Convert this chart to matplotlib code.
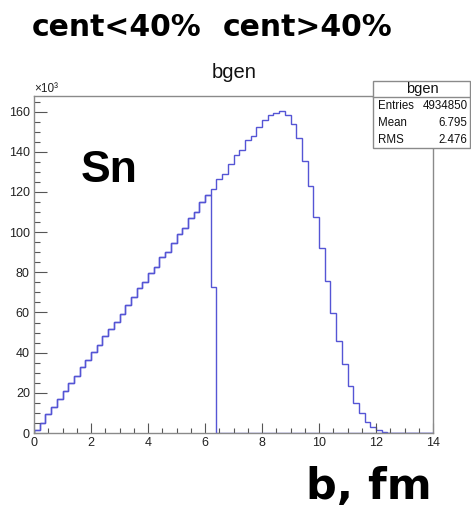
import numpy as np
import matplotlib
matplotlib.use("Agg")
import matplotlib.pyplot as plt
from matplotlib.patches import Rectangle
from matplotlib.lines import Line2D
from matplotlib.ticker import MultipleLocator

# ---- data (counts in units of 10^3, 70 bins of width 0.2 fm from 0 to 14) ----
bin_edges_range = (0.0, 14.0)
n_bins = 70
all_counts = [
    1.5, 5.1, 9.3, 13.1, 16.8, 20.8, 24.9, 28.4, 32.7, 36.4,
    40.2, 43.7, 48.3, 51.9, 55.3, 59.4, 63.7, 67.6, 72.1, 75.0,
    79.8, 82.5, 87.6, 90.3, 94.5, 99.1, 102.2, 106.9, 110.1, 114.8,
    118.5, 121.5, 126.5, 129.0, 134.0, 138.2, 141.0, 145.9, 147.9, 152.5,
    155.9, 158.3, 159.2, 160.4, 158.1, 154.0, 146.8, 135.5, 123.0, 107.7,
    92.0, 75.8, 59.6, 46.0, 34.4, 23.4, 15.1, 9.8, 5.6, 3.1,
    1.5, 0.6, 0.2, 0, 0, 0, 0, 0, 0, 0,
]
central_counts = all_counts[:31] + [72.5] + [0] * 38

stat_title = "bgen"
stat_rows = [("Entries", "4934850"), ("Mean", "6.795"), ("RMS", "2.476")]
y_ticks = [0, 20, 40, 60, 80, 100, 120, 140, 160]
x_ticks = [0, 2, 4, 6, 8, 10, 12, 14]

W, H = 471, 509
fig = plt.figure(figsize=(W / 100, H / 100), dpi=100)
fig.patch.set_facecolor("white")

def fx(px):
    return px / W

def fy(py):
    return 1 - py / H

ax = fig.add_axes([fx(34), fy(433), fx(433) - fx(34), fy(96) - fy(433)])
edges = np.linspace(bin_edges_range[0], bin_edges_range[1], n_bins + 1)
line_col = "#5555d5"
ax.stairs(all_counts, edges, baseline=0, color=line_col, lw=1.0)
ax.stairs(central_counts, edges, baseline=0, color=line_col, lw=1.0)

ax.set_xlim(0, 14)
ax.set_ylim(0, 167.8)
ax.set_xticks(x_ticks)
ax.set_yticks(y_ticks)
ax.xaxis.set_minor_locator(MultipleLocator(0.5))
ax.yaxis.set_minor_locator(MultipleLocator(5))
for s in ax.spines.values():
    s.set_color("#8a8a8a")
    s.set_linewidth(1.0)
lab_font = "Liberation Sans"
ax.tick_params(axis="y", which="major", direction="in", length=9, width=0.8,
               color="#555555", labelsize=9, pad=3, labelcolor="#222222")
ax.tick_params(axis="y", which="minor", direction="in", length=4.5, width=0.8,
               color="#555555")
ax.tick_params(axis="x", which="major", direction="in", length=7.5, width=0.8,
               color="#555555", labelsize=9, pad=3, labelcolor="#222222")
ax.tick_params(axis="x", which="minor", direction="in", length=3.75, width=0.8,
               color="#555555")
for lab in ax.get_xticklabels() + ax.get_yticklabels():
    lab.set_fontfamily(lab_font)

fig.text(fx(34), fy(94.5), "×10³", fontsize=8.5, family=lab_font, color="#222222",
         ha="left", va="bottom")

# title
fig.text(fx(234), fy(72), "bgen", fontsize=14.5, family=lab_font, color="#111111",
         ha="center", va="center")

# stat box
bx0, bx1, by0, by1 = 372.7, 470, 80.7, 147.7
fig.add_artist(Rectangle((fx(bx0), fy(by1)), fx(bx1) - fx(bx0), fy(by0) - fy(by1),
                         transform=fig.transFigure, facecolor="white",
                         edgecolor="#8a8a8a", lw=1.0, zorder=5))
fig.add_artist(Line2D([fx(bx0), fx(bx1)], [fy(96.7), fy(96.7)],
                      transform=fig.transFigure, color="#8a8a8a", lw=1.0, zorder=6))
fig.text(fx(422.7), fy(88.5), stat_title, fontsize=10.5, family=lab_font,
         ha="center", va="center", zorder=7, color="#111111")
row_y = [106, 122.7, 140]
for (k, v), yy in zip(stat_rows, row_y):
    fig.text(fx(378.3), fy(yy), k, fontsize=8.3, family=lab_font,
             ha="left", va="center", zorder=7, color="#111111")
    fig.text(fx(467.7), fy(yy), v, fontsize=8.3, family=lab_font,
             ha="right", va="center", zorder=7, color="#111111")

# big annotations
fig.text(fx(32), fy(27), "cent<40%", fontsize=21.5, family="DejaVu Sans",
         weight="bold", ha="left", va="center", color="black")
fig.text(fx(223), fy(27), "cent>40%", fontsize=21.5, family="DejaVu Sans",
         weight="bold", ha="left", va="center", color="black")
fig.text(fx(81), fy(181.5), "Sn", fontsize=32, family=lab_font, weight="bold",
         ha="left", va="baseline", color="black")
fig.text(fx(306), fy(499), "b, fm", fontsize=31, family="DejaVu Sans", weight="bold",
         ha="left", va="baseline", color="black")

fig.savefig("out.png", dpi=100)
